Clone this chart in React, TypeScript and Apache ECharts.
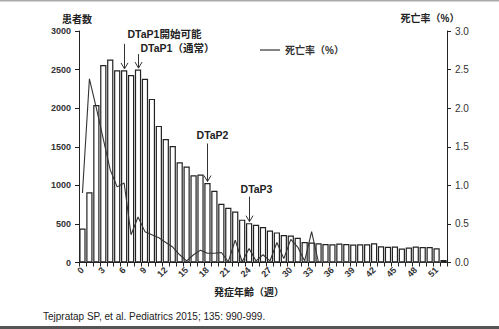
import React, { useEffect, useRef } from "react";
import * as echarts from "echarts";

const FONT = "'Liberation Sans', 'Noto Sans CJK JP', sans-serif";

// weeks of age at onset (0..52)
const categories = [
  "0","1","2","3","4","5","6","7","8","9","10","11","12","13","14","15","16","17",
  "18","19","20","21","22","23","24","25","26","27","28","29","30","31","32","33","34","35",
  "36","37","38","39","40","41","42","43","44","45","46","47","48","49","50","51","52",
];

// patients (left axis)
const patients = [
  440, 910, 2040, 2560, 2630, 2490, 2490, 2430, 2500, 2380, 2120, 1770, 1600, 1510,
  1300, 1245, 1130, 1140, 1030, 930, 760, 710, 660, 555, 510, 490, 460, 415, 390,
  355, 350, 320, 265, 258, 250, 240, 235, 245, 240, 232, 237, 237, 250, 210, 205,
  206, 180, 193, 206, 200, 200, 185, 33,
];

// mortality % (right axis)
const mortality = [
  0.9, 2.38, 2.0, 1.6, 1.2, 0.98, 1.03, 0.36, 0.59, 0.4, 0.36, 0.32, 0.26, 0.2,
  0.1, 0.02, 0.1, 0.16, 0.12, 0.12, 0.13, 0.01, 0.29, 0.01, 0.18, 0.02, 0.1, 0.02,
  0.26, 0.05, 0.3, 0.2, 0.02, 0.4, 0, 0, 0, 0, 0, 0, 0, 0, 0, 0, 0, 0, 0, 0, 0, 0,
  0, 0, 0,
];

const leftTicks = [0, 500, 1000, 1500, 2000, 2500, 3000];
const rightTicks = [0, 0.5, 1.0, 1.5, 2.0, 2.5, 3.0];

// annotation arrows pointing at bar tops
const arrowCats = [6, 8, 18, 24];
const arrowLabels = ["DTaP1開始可能", "DTaP1（通常）", "DTaP2", "DTaP3"];

export default function App() {
  const ref = useRef<HTMLDivElement>(null);

  useEffect(() => {
    document.body.style.margin = "0";
    if (!ref.current) return;
    const chart = echarts.init(ref.current, null, { renderer: "svg" });
    const axisColor = "#222";
    chart.setOption({
      animation: false,
      backgroundColor: "#fff",
      textStyle: { fontFamily: FONT },
      grid: { left: 79, right: 52, top: 31, bottom: 66.5, containLabel: false },
      legend: {
        data: [{ name: "死亡率（%）", icon: "rect" }],
        left: 255,
        top: 40,
        itemWidth: 20,
        itemHeight: 1.2,
        itemGap: 5,
        textStyle: { fontFamily: FONT, fontSize: 10, fontWeight: "bold", color: "#333" },
      },
      xAxis: {
        type: "category",
        data: categories,
        boundaryGap: true,
        axisLine: { lineStyle: { color: axisColor, width: 1 } },
        axisTick: { show: true, interval: 0, length: 4, lineStyle: { color: axisColor } },
        axisLabel: {
          interval: 2,
          rotate: 45,
          fontSize: 9,
          fontWeight: "bold",
          color: "#333",
          margin: 6,
          fontFamily: FONT,
        },
        splitLine: { show: false },
      },
      yAxis: [
        {
          type: "value",
          min: leftTicks[0],
          max: leftTicks[leftTicks.length - 1],
          interval: 500,
          axisLine: { show: true, lineStyle: { color: axisColor } },
          axisTick: { show: true, length: 4, lineStyle: { color: axisColor } },
          splitLine: { show: false },
          axisLabel: {
            fontSize: 9,
            fontWeight: "bold",
            color: "#333",
            margin: 8,
            fontFamily: FONT,
            formatter: (v: number) => String(v),
          },
        },
        {
          type: "value",
          position: "right",
          min: rightTicks[0],
          max: rightTicks[rightTicks.length - 1],
          interval: 0.5,
          axisLine: { show: true, lineStyle: { color: axisColor } },
          axisTick: { show: true, length: 4, lineStyle: { color: axisColor } },
          splitLine: { show: false },
          axisLabel: {
            fontSize: 10,
            color: "#333",
            margin: 8,
            fontFamily: FONT,
            formatter: (v: number) => v.toFixed(1),
          },
        },
      ],
      series: [
        {
          type: "bar",
          name: "患者数",
          data: patients,
          barCategoryGap: "10%",
          itemStyle: { color: "#fff", borderColor: "#222", borderWidth: 1.2 },
        },
        {
          type: "line",
          name: "死亡率（%）",
          yAxisIndex: 1,
          data: mortality,
          symbol: "none",
          lineStyle: { color: "#333", width: 1.1 },
          itemStyle: { color: "#333" },
        },
      ],
    });

    // build annotations from bar-top pixel positions
    const tips = arrowCats.map((c) =>
      chart.convertToPixel({ xAxisIndex: 0, yAxisIndex: 0 }, [c, patients[c]]) as number[]
    );
    const arrowLens = [25, 14, 38, 25];
    const textOffsets = [
      { dx: 3, dy: -35, align: "left" },
      { dx: 2, dy: -20, align: "left" },
      { dx: 5, dy: -47, align: "center" },
      { dx: 7, dy: -33, align: "center" },
    ];
    const g: any[] = [];
    tips.forEach((p, i) => {
      const x = Math.round(p[0]) + 0.5;
      const tip = p[1] - 1.5;
      g.push({
        type: "line",
        shape: { x1: x, y1: tip - arrowLens[i], x2: x, y2: tip },
        style: { stroke: "#333", lineWidth: 1 },
        z: 100,
      });
      g.push({
        type: "polyline",
        shape: { points: [[x - 3.5, tip - 6], [x, tip], [x + 3.5, tip - 6]] },
        style: { stroke: "#333", lineWidth: 1, fill: null },
        z: 100,
      });
      const o = textOffsets[i];
      g.push({
        type: "text",
        x: x + o.dx,
        y: tip + o.dy,
        style: {
          text: arrowLabels[i],
          fontFamily: FONT,
          fontSize: 10.5,
          fontWeight: "bold",
          fill: "#222",
          align: o.align,
          verticalAlign: "middle",
        },
        z: 100,
      });
    });

    g.push(
      {
        type: "text",
        x: 77,
        y: 19,
        style: { text: "患者数", fontFamily: FONT, fontSize: 10, fontWeight: "bold", fill: "#222", align: "center", verticalAlign: "middle" },
      },
      {
        type: "text",
        x: 430,
        y: 18,
        style: { text: "死亡率（%）", fontFamily: FONT, fontSize: 10, fontWeight: "bold", fill: "#222", align: "center", verticalAlign: "middle" },
      },
      {
        type: "text",
        x: 249,
        y: 292,
        style: { text: "発症年齢（週）", fontFamily: FONT, fontSize: 10, fontWeight: "bold", fill: "#222", align: "center", verticalAlign: "middle" },
      },
      {
        type: "text",
        x: 43,
        y: 316,
        style: { text: "Tejpratap SP, et al. Pediatrics 2015; 135: 990-999.", fontFamily: FONT, fontSize: 10, fill: "#222", align: "left", verticalAlign: "middle" },
      },
      {
        type: "rect",
        shape: { x: 0, y: 0, width: 499, height: 1.5 },
        style: { fill: "#aaa" },
      },
      {
        type: "rect",
        shape: { x: 0, y: 326, width: 499, height: 3 },
        style: { fill: "#555" },
      }
    );
    chart.setOption({ graphic: g });

    return () => chart.dispose();
  }, []);

  return (
    <div
      ref={ref}
      style={{ position: "absolute", left: 0, top: 0, width: 499, height: 329 }}
    />
  );
}
